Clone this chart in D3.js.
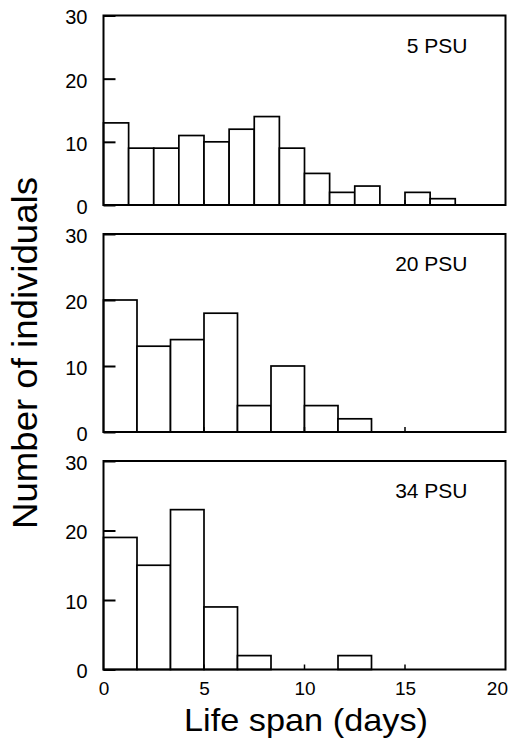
<!DOCTYPE html>
<html>
<head>
<meta charset="utf-8">
<script src="https://cdn.jsdelivr.net/npm/d3@7"></script>
<style>
  body { margin: 0; background: #fff; }
  svg text { font-family: "Liberation Sans", Arial, sans-serif; fill: #000; }
</style>
</head>
<body>
<div id="chart"></div>
<script>
// histogram counts per salinity
var panelLabels = ["5 PSU", "20 PSU", "34 PSU"];
var counts5  = [13, 9, 9, 11, 10, 12, 14, 9, 5, 2, 3, 0, 2, 1, 0, 0];
var counts20 = [20, 13, 14, 18, 4, 10, 4, 2, 0, 0, 0, 0];
var counts34 = [19, 15, 23, 9, 2, 0, 0, 2, 0, 0, 0, 0];
var binWidths = [1.25, 5 / 3, 5 / 3];
var yTicks = [0, 10, 20, 30];
var xTicks = [0, 5, 10, 15, 20];
var xInnerTicks = [5, 10, 15];

var allCounts = [counts5, counts20, counts34];

var width = 508, height = 738;
var left = 103.5, right = 505.5;
// the scanned panels are not all the same height
var panelTop = [15.5, 234, 461];
var panelBottom = [205, 432, 669.5];

var svg = d3.select("#chart").append("svg")
  .attr("width", width)
  .attr("height", height);

var x = d3.scaleLinear().domain([0, 20]).range([left, right]);

allCounts.forEach(function(counts, p) {
  var y = d3.scaleLinear().domain([0, 30]).range([panelBottom[p], panelTop[p]]);
  var bw = binWidths[p];
  var g = svg.append("g");

  var bins = counts.map(function(c, i) { return {x0: i * bw, x1: (i + 1) * bw, n: c}; })
    .filter(function(d) { return d.n > 0; });

  g.selectAll("rect.bar")
    .data(bins)
    .enter()
    .append("rect")
    .attr("class", "bar")
    .attr("x", function(d) { return x(d.x0); })
    .attr("y", function(d) { return y(d.n); })
    .attr("width", function(d) { return x(d.x1) - x(d.x0); })
    .attr("height", function(d) { return y(0) - y(d.n); })
    .attr("fill", "#fff")
    .attr("stroke", "#000")
    .attr("stroke-width", 1.7);

  // y axis: inward ticks, labels outside
  var yAxis = d3.axisLeft(y).tickValues(yTicks).tickSize(-12).tickPadding(16).tickFormat(d3.format("d"));
  var ya = g.append("g").attr("transform", "translate(" + left + ",0)").call(yAxis);
  ya.select(".domain").remove();
  ya.selectAll(".tick line").attr("stroke", "#000").attr("stroke-width", 2);
  ya.selectAll(".tick text")
    .style("font-size", "20px")
    .attr("dy", "0.42em");

  // small inward x ticks on the bottom
  g.selectAll("line.xt")
    .data(xInnerTicks)
    .enter()
    .append("line")
    .attr("class", "xt")
    .attr("x1", function(d) { return x(d); })
    .attr("x2", function(d) { return x(d); })
    .attr("y1", y(0))
    .attr("y2", y(0) - 5)
    .attr("stroke", "#000")
    .attr("stroke-width", 1.5);

  // frame
  g.append("rect")
    .attr("x", left)
    .attr("y", panelTop[p])
    .attr("width", right - left)
    .attr("height", panelBottom[p] - panelTop[p])
    .attr("fill", "none")
    .attr("stroke", "#000")
    .attr("stroke-width", 2);

  g.append("text")
    .attr("x", right - 38)
    .attr("y", panelTop[p] + 37)
    .attr("text-anchor", "end")
    .style("font-size", "21px")
    .text(panelLabels[p]);

  if (p == 2) {
    var xAxis = d3.axisBottom(x).tickValues(xTicks).tickSize(0).tickPadding(12).tickFormat(d3.format("d"));
    var xa = g.append("g").attr("transform", "translate(0," + panelBottom[p] + ")").call(xAxis);
    xa.select(".domain").remove();
    xa.selectAll(".tick text").style("font-size", "19px");
    // last label sits at the page edge, keep it inside
    xa.selectAll(".tick text").filter(function(d) { return d == 20; })
      .attr("text-anchor", "end")
      .attr("x", 2);
  }
});

svg.append("text")
  .attr("x", 306)
  .attr("y", 731)
  .attr("text-anchor", "middle")
  .attr("textLength", 244)
  .attr("lengthAdjust", "spacingAndGlyphs")
  .style("font-size", "32px")
  .text("Life span (days)");

svg.append("text")
  .attr("transform", "translate(37,353) rotate(-90)")
  .attr("text-anchor", "middle")
  .attr("textLength", 352)
  .attr("lengthAdjust", "spacingAndGlyphs")
  .style("font-size", "35px")
  .text("Number of individuals");
</script>
</body>
</html>
